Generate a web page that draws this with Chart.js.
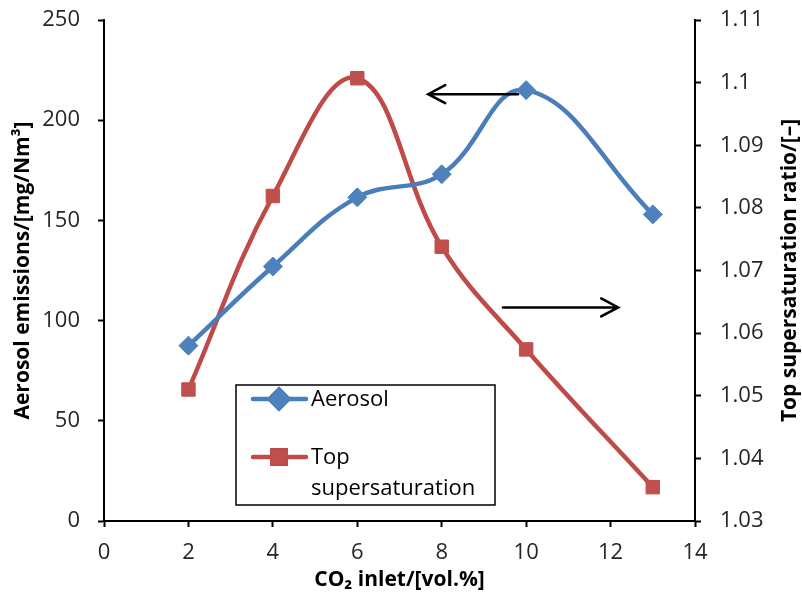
<!DOCTYPE html>
<html lang="en">
<head>
    <meta charset="UTF-8">
    <title>Aerosol emissions vs CO2 inlet</title>
    <script src="https://cdn.jsdelivr.net/npm/chart.js"></script>
    <style>
        body {
            margin: 0;
            padding: 0;
            background: #fff;
        }
        #wrap {
            width: 802px;
            height: 597px;
        }
    </style>
</head>
<body>
<div id="wrap">
    <canvas id="graph" width="802" height="597"></canvas>
</div>

<script>
// data
const co2Inlet = [2, 4, 6, 8, 10, 13];
const aerosol = [87.5, 127, 161.5, 173, 215, 153];
const topSupersat = [1.051, 1.0819, 1.1007, 1.0738, 1.0574, 1.0354];

const xTickLabels = ['0', '2', '4', '6', '8', '10', '12', '14'];
const leftTickLabels = ['0', '50', '100', '150', '200', '250'];
const rightTickLabels = ['1.03', '1.04', '1.05', '1.06', '1.07', '1.08', '1.09', '1.1', '1.11'];

// arrows: [x from, x to, y] on the axis they point at
const arrowToLeft = [9.81, 7.68, 213];
const arrowToRight = [9.45, 12.18, 1.0641];

const FONT = "'Open Sans', 'DejaVu Sans', sans-serif";
const BLUE = '#4A7EBB';
const BLUE_FILL = '#4F81BD';
const RED = '#BE4B48';
const RED_FILL = '#C0504D';
const TICK_COLOR = '#262626';

function axisBase() {
    return {
        grid: {
            drawOnChartArea: false,
            drawTicks: true,
            tickLength: 6,
            tickWidth: 2,
            tickColor: '#000'
        },
        border: { display: true, color: '#000', width: 2 },
        ticks: {
            color: TICK_COLOR,
            font: { family: FONT, size: 22 }
        }
    };
}

function drawArrow(ctx, x1, x2, y) {
    const dir = x2 > x1 ? 1 : -1;
    ctx.save();
    ctx.strokeStyle = '#000';
    ctx.lineWidth = 2.5;
    ctx.lineCap = 'round';
    ctx.beginPath();
    ctx.moveTo(x1, y);
    ctx.lineTo(x2, y);
    ctx.moveTo(x2 - dir * 17, y - 9);
    ctx.lineTo(x2, y);
    ctx.lineTo(x2 - dir * 17, y + 9);
    ctx.stroke();
    ctx.restore();
}

const extrasPlugin = {
    id: 'extras',
    afterDatasetsDraw(chart) {
        const ctx = chart.ctx;
        const sx = chart.scales.x;
        const sy = chart.scales.y;
        const sr = chart.scales.yRight;
        drawArrow(ctx, sx.getPixelForValue(arrowToLeft[0]), sx.getPixelForValue(arrowToLeft[1]), sy.getPixelForValue(arrowToLeft[2]));
        drawArrow(ctx, sx.getPixelForValue(arrowToRight[0]), sx.getPixelForValue(arrowToRight[1]), sr.getPixelForValue(arrowToRight[2]));
    },
    afterDraw(chart) {
        const ctx = chart.ctx;
        const area = chart.chartArea;

        // right axis title, reading bottom to top
        ctx.save();
        ctx.translate(790, (area.top + area.bottom) / 2);
        ctx.rotate(-Math.PI / 2);
        ctx.font = 'bold 21px ' + FONT;
        ctx.fillStyle = '#000';
        ctx.textAlign = 'center';
        ctx.textBaseline = 'middle';
        ctx.fillText('Top supersaturation ratio/[–]', 0, 0);
        ctx.restore();

        // legend box
        ctx.save();
        ctx.fillStyle = '#fff';
        ctx.fillRect(236, 385, 259, 120);
        ctx.strokeStyle = '#000';
        ctx.lineWidth = 1.5;
        ctx.strokeRect(236, 385, 259, 120);

        const ds = chart.data.datasets;
        const rows = [399, 457];
        ds.forEach((d, i) => {
            ctx.strokeStyle = d.borderColor;
            ctx.lineWidth = d.borderWidth;
            ctx.lineCap = 'round';
            ctx.beginPath();
            ctx.moveTo(253, rows[i]);
            ctx.lineTo(306, rows[i]);
            ctx.stroke();
            Chart.helpers.drawPoint(ctx, {
                pointStyle: d.pointStyle,
                radius: d.pointRadius,
                borderWidth: d.pointBorderWidth,
                rotation: 0
            }, 279, rows[i]);
            ctx.fillStyle = d.pointBackgroundColor;
            ctx.strokeStyle = d.pointBorderColor;
            ctx.lineWidth = d.pointBorderWidth;
            ctx.fill();
            ctx.stroke();
        });

        ctx.fillStyle = '#000';
        ctx.font = '22px ' + FONT;
        ctx.textAlign = 'left';
        ctx.textBaseline = 'alphabetic';
        ctx.fillText('Aerosol', 311, 406);
        ctx.fillText('Top', 311, 464);
        ctx.fillText('supersaturation', 311, 495);
        ctx.restore();
    }
};

const xAxis = axisBase();
xAxis.type = 'linear';
xAxis.min = 0;
xAxis.max = 14;
xAxis.ticks.stepSize = 2;
xAxis.ticks.padding = 13;
xAxis.ticks.maxRotation = 0;
xAxis.ticks.callback = (v, i) => xTickLabels[i];
xAxis.title = {
    display: true,
    text: 'CO₂ inlet/[vol.%]',
    color: '#000',
    font: { family: FONT, size: 21, weight: 'bold' },
    padding: { top: 0, bottom: 4 }
};
xAxis.afterFit = s => { s.height = 76; };

const yAxis = axisBase();
yAxis.position = 'left';
yAxis.min = 0;
yAxis.max = 250;
yAxis.ticks.stepSize = 50;
yAxis.ticks.padding = 18;
yAxis.ticks.callback = (v, i) => leftTickLabels[i];
yAxis.title = {
    display: true,
    text: 'Aerosol emissions/[mg/Nm³]',
    color: '#000',
    font: { family: FONT, size: 21, weight: 'bold' },
    padding: { top: 10, bottom: 0 }
};
yAxis.afterFit = s => { s.width = 104; s.paddingTop = 0; };

const yRightAxis = axisBase();
yRightAxis.position = 'right';
yRightAxis.min = 1.03;
yRightAxis.max = 1.11;
yRightAxis.ticks.stepSize = 0.01;
yRightAxis.ticks.padding = 19;
yRightAxis.ticks.callback = (v, i) => rightTickLabels[i] !== undefined ? rightTickLabels[i] : String(+v.toFixed(2));
yRightAxis.afterFit = s => { s.width = 107; s.paddingTop = 0; };

const ctx = document.getElementById('graph').getContext('2d');
new Chart(ctx, {
    type: 'line',
    data: {
        datasets: [{
            label: 'Aerosol',
            data: co2Inlet.map((x, i) => ({ x: x, y: aerosol[i] })),
            yAxisID: 'y',
            borderColor: BLUE,
            borderWidth: 4.5,
            borderCapStyle: 'round',
            borderJoinStyle: 'round',
            tension: 0.4,
            pointStyle: 'rectRot',
            pointRadius: 9.5,
            pointBackgroundColor: BLUE_FILL,
            pointBorderColor: BLUE_FILL,
            pointBorderWidth: 1
        }, {
            label: 'Top supersaturation',
            data: co2Inlet.map((x, i) => ({ x: x, y: topSupersat[i] })),
            yAxisID: 'yRight',
            borderColor: RED,
            borderWidth: 4.5,
            borderCapStyle: 'round',
            borderJoinStyle: 'round',
            tension: 0.4,
            pointStyle: 'rect',
            pointRadius: 9.5,
            pointBackgroundColor: RED_FILL,
            pointBorderColor: RED_FILL,
            pointBorderWidth: 1
        }]
    },
    options: {
        responsive: false,
        animation: false,
        layout: { padding: { top: 20, left: 0, right: 0, bottom: 0 } },
        plugins: {
            legend: { display: false },
            tooltip: { enabled: false }
        },
        scales: {
            x: xAxis,
            y: yAxis,
            yRight: yRightAxis
        }
    },
    plugins: [extrasPlugin]
});
</script>
</body>
</html>
